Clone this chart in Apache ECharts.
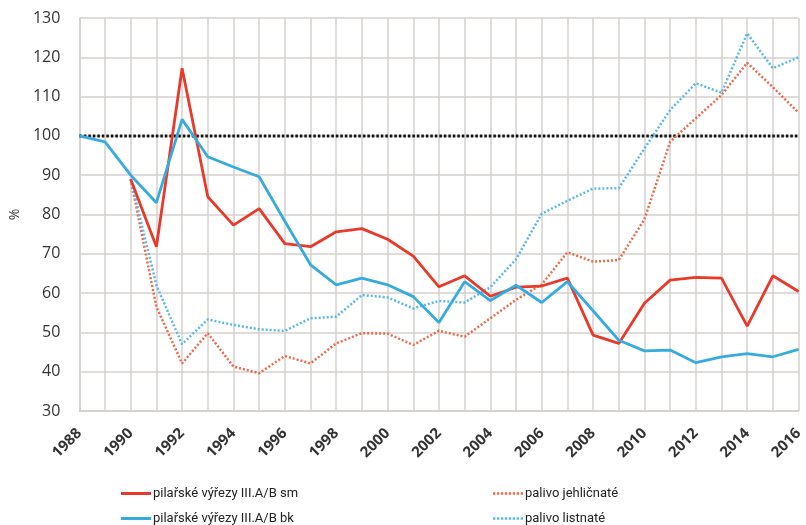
<!DOCTYPE html>
<html>
<head>
<meta charset="utf-8">
<title>pilařské výřezy a palivo</title>
<script src="https://cdn.jsdelivr.net/npm/echarts@6/dist/echarts.min.js"></script>
<style>
  html, body { margin: 0; padding: 0; background: #fff; }
  #main { width: 806px; height: 525px; }
</style>
</head>
<body>
<div id="main"></div>
<script>
var years = [];
for (var y = 1988; y <= 2016; y++) years.push(String(y));

// hodnoty (%)
var smData = [null, null, 89, 71.8, 117.2, 84.5, 77.3, 81.5, 72.6, 71.8, 75.6, 76.4, 73.7, 69.4, 61.6, 64.4, 59.2,
              61.5, 61.8, 63.8, 49.3, 47.2, 57.4, 63.3, 64.0, 63.8, 51.6, 64.4, 60.4];
var bkData = [100, 98.5, 90, 83.0, 104.2, 94.7, 92.1, 89.6, 78.3, 67.2, 62.1, 63.8, 62.1, 59.1, 52.5, 62.9, 58.1,
              62.0, 57.6, 62.9, 55.5, 48.0, 45.3, 45.5, 42.3, 43.8, 44.6, 43.8, 45.7];
var jehlData = [null, null, 89, 56.5, 42.1, 49.8, 41.3, 39.6, 44.0, 42.1, 47.2, 49.8, 49.7, 46.8, 50.4, 48.9, 53.6,
                58.3, 62.2, 70.4, 68.0, 68.4, 78.8, 98.5, 104.5, 110.4, 118.6, 112.4, 105.9];
var listData = [null, null, 89, 62, 47.0, 53.3, 51.9, 50.8, 50.4, 53.6, 54.0, 59.5, 58.9, 56.1, 58.0, 57.6, 61.5,
                68.6, 80.2, 83.5, 86.6, 86.7, 96.8, 106.6, 113.4, 111.0, 126.1, 117.2, 120.0];
var baseData = years.map(function () { return 100; });

var names = ['pilařské výřezy III.A/B sm', 'pilařské výřezy III.A/B bk', 'palivo jehličnaté', 'palivo listnaté'];

var dotIcon = 'path://M0 0h3v3H0z M5 0h3v3H5z M10 0h3v3h-3z M15 0h3v3h-3z M20 0h3v3h-3z M25 0h3v3h-3z M30 0h3v3h-3z M35 0h3v3h-3z';

function legendItem(name, left, top, icon, h) {
    return {
        left: left, top: top, itemWidth: 30, itemHeight: h, itemGap: 0,
        icon: icon,
        textStyle: { fontSize: 13, color: '#222', fontFamily: 'Roboto', padding: [0, 0, 0, -3] },
        data: [name]
    };
}

var myChart = echarts.init(document.getElementById('main'));
var txt = '#333';
var option = {
    animation: false,
    textStyle: { fontFamily: 'Open Sans' },
    grid: { left: 75, right: 6, top: 18, bottom: 114 },
    legend: [
        legendItem(names[0], 116, 482, 'rect', 3),
        legendItem(names[1], 116, 507, 'rect', 3),
        legendItem(names[2], 488, 482, dotIcon, 2.5),
        legendItem(names[3], 488, 507, dotIcon, 2.5)
    ],
    xAxis: {
        type: 'category', boundaryGap: false, data: years,
        axisLine: { lineStyle: { color: '#d4d0cc', width: 1.5 } },
        axisTick: { show: false },
        axisLabel: { interval: 1, rotate: 45, fontSize: 15, fontWeight: 'bold', color: txt, margin: 20 },
        splitLine: { show: true, interval: 0, lineStyle: { color: '#d4d0cc', width: 1.5 } }
    },
    yAxis: {
        type: 'value', min: 30, max: 130, interval: 10,
        name: '%', nameLocation: 'middle', nameGap: 51, nameRotate: 90,
        nameTextStyle: { fontSize: 14, color: txt },
        axisLine: { show: true, lineStyle: { color: '#d4d0cc', width: 1.5 } },
        axisTick: { show: false },
        axisLabel: { fontSize: 16, color: txt, margin: 19 },
        splitLine: { lineStyle: { color: '#d4d0cc', width: 1.5 } }
    },
    series: [
        {
            name: 'základ', type: 'line', data: baseData, symbol: 'none', silent: true,
            lineStyle: { color: '#111', width: 3, type: [2.5, 2] }, z: 3
        },
        {
            name: names[2], type: 'line', data: jehlData, symbol: 'none',
            itemStyle: { color: '#ee6a4c' },
            lineStyle: { color: '#ee6a4c', width: 2.5, type: [2, 2] }
        },
        {
            name: names[3], type: 'line', data: listData, symbol: 'none',
            itemStyle: { color: '#5cb8e8' },
            lineStyle: { color: '#5cb8e8', width: 2.5, type: [2, 2] }
        },
        {
            name: names[0], type: 'line', data: smData, symbol: 'none',
            itemStyle: { color: '#e8392a' },
            lineStyle: { color: '#e8392a', width: 2.8 }
        },
        {
            name: names[1], type: 'line', data: bkData, symbol: 'none',
            itemStyle: { color: '#36abe0' },
            lineStyle: { color: '#36abe0', width: 2.8 }
        }
    ]
};
myChart.setOption(option);
</script>
</body>
</html>
